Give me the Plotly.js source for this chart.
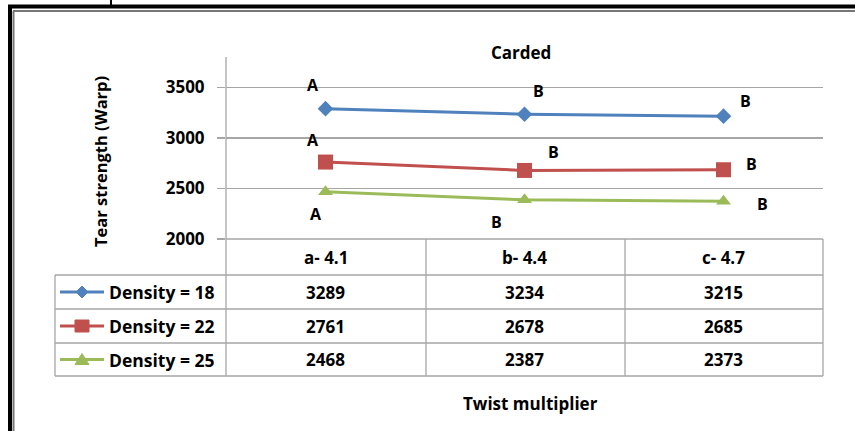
<!DOCTYPE html>
<html><head><meta charset="utf-8">
<script src="https://cdn.plot.ly/plotly-3.0.1.min.js"></script>
<style>html,body{margin:0;padding:0;background:#fff;} #chart{width:855px;height:431px;}</style>
</head><body><div id="chart"></div>
<script>
// ---- data ----
const categories = ['a- 4.1', 'b- 4.4', 'c- 4.7'];
const seriesNames = ['Density = 18', 'Density = 22', 'Density = 25'];
const density18 = [3289, 3234, 3215];
const density22 = [2761, 2678, 2685];
const density25 = [2468, 2387, 2373];
const letters18 = ['A', 'B', 'B'];
const letters22 = ['A', 'B', 'B'];
const letters25 = ['A', 'B', 'B'];
const yTickValues = [2000, 2500, 3000, 3500];
const chartTitle = 'Carded';
const yTitle = 'Tear strength (Warp)';
const xTitle = 'Twist multiplier';

// ---- styling / layout ----
const FONT = '"Open Sans", "DejaVu Sans", sans-serif';
const colors = ['#4F81BD', '#C0504D', '#9BBB59'];
const symbols = ['diamond', 'square', 'triangle-up'];
const markerSizes = [12, 15, 13];
const gridColor = '#a6a6a6';
const L = 226, T = 57, W = 597, H = 182;
const px = X => (X - L) / W;
const py = Y => (T + H - Y) / H;
// letter offsets (pixels, dy positive = up) per series, per point
const letterOffsets = [
  [[-13, 24], [14, 23], [22, 15]],
  [[-13, 22], [29, 18], [28, 6]],
  [[-10, -22], [-28, -22], [39, -3]]
];
const series = [density18, density22, density25];
const letters = [letters18, letters22, letters25];

const traces = series.map((vals, i) => ({
  type: 'scatter', mode: 'lines+markers',
  x: categories, y: vals, name: seriesNames[i],
  line: {color: colors[i], width: 3},
  marker: {color: colors[i], symbol: symbols[i], size: markerSizes[i]},
  cliponaxis: false, showlegend: false, hoverinfo: 'skip'
}));

const shapes = [];
const line = (x0, y0, x1, y1, color, width) => shapes.push({
  type: 'line', xref: 'paper', yref: 'paper',
  x0: px(x0), y0: py(y0), x1: px(x1), y1: py(y1),
  line: {color: color, width: width}
});
// outer frame
line(8, 6.5, 855, 6.5, '#000', 4);
line(10, 5, 10, 431, '#000', 4);
line(13, 11, 855, 11, '#777', 2);
line(13.5, 11, 13.5, 431, '#777', 2);
line(111, 0, 111, 5, '#000', 2);
// table
const rowLines = [275, 309, 343, 376];
line(226, 239, 823, 239, gridColor, 1.3);
rowLines.forEach(y => line(55, y, 823, y, gridColor, 1.3));
line(55, 275, 55, 376, gridColor, 1.3);
line(226, 57, 226, 376, gridColor, 1.3);
line(426, 239, 426, 376, gridColor, 1.3);
line(625, 239, 625, 376, gridColor, 1.3);
line(823, 239, 823, 376, gridColor, 1.3);
// legend keys
const rowCenters = [292, 326, 359.5];
const keyPaths = [
  'M0,6 L6,0 L0,-6 L-6,0 Z',
  'M-7,6 L7,6 L7,-6 L-7,-6 Z',
  'M-7,-5 L7,-5 L0,6 Z'
];
rowCenters.forEach((yc, i) => {
  line(60, yc, 104, yc, colors[i], 3);
  shapes.push({
    type: 'path', xref: 'paper', yref: 'paper',
    xsizemode: 'pixel', ysizemode: 'pixel',
    xanchor: px(82), yanchor: py(yc),
    path: keyPaths[i],
    fillcolor: colors[i], line: {color: colors[i], width: 1}
  });
});

const annotations = [];
const txt = (text, X, Y, size, extra) => annotations.push(Object.assign({
  text: text, xref: 'paper', yref: 'paper', x: px(X), y: py(Y),
  xanchor: 'center', yanchor: 'middle', showarrow: false,
  font: {family: FONT, size: size, color: '#000', weight: 700}
}, extra || {}));
txt(chartTitle, 521, 52, 17);
txt(xTitle, 530, 403, 17);
txt(yTitle, 100, 162, 16.5, {textangle: -90});
categories.forEach((c, j) => {
  annotations.push({text: c, xref: 'x', yref: 'paper', x: c, y: py(257),
    showarrow: false, xanchor: 'center', yanchor: 'middle',
    font: {family: FONT, size: 17, color: '#000', weight: 700}});
  series.forEach((vals, i) => {
    annotations.push({text: String(vals[j]), xref: 'x', yref: 'paper', x: c, y: py(rowCenters[i]),
      showarrow: false, xanchor: 'center', yanchor: 'middle',
      font: {family: FONT, size: 17, color: '#000', weight: 700}});
  });
});
seriesNames.forEach((n, i) => txt(n, 107, rowCenters[i], 17.5, {xanchor: 'left'}));
series.forEach((vals, i) => vals.forEach((v, j) => {
  annotations.push({text: letters[i][j], xref: 'x', yref: 'y', x: categories[j], y: v,
    xshift: letterOffsets[i][j][0], yshift: letterOffsets[i][j][1],
    showarrow: false, xanchor: 'center', yanchor: 'middle',
    font: {family: FONT, size: 16, color: '#000', weight: 700}});
}));

const layout = {
  width: 855, height: 431,
  margin: {l: L, r: 855 - L - W, t: T, b: 431 - T - H, pad: 0},
  paper_bgcolor: '#fff', plot_bgcolor: '#fff',
  showlegend: false,
  xaxis: {type: 'category', range: [-0.5, 2.5], showticklabels: false, ticks: '',
    showgrid: false, zeroline: false, showline: false, fixedrange: true},
  yaxis: {range: [2000, 3800], tickvals: yTickValues, ticktext: yTickValues.map(String),
    ticks: 'outside', ticklen: 8, tickcolor: gridColor, tickwidth: 1.3,
    showgrid: true, gridcolor: gridColor, gridwidth: 1.3, zeroline: false,
    showline: false, ticklabelstandoff: 9,
    tickfont: {family: FONT, size: 17, color: '#000', weight: 700}, fixedrange: true},
  shapes: shapes, annotations: annotations
};
Plotly.newPlot('chart', traces, layout, {displayModeBar: false, staticPlot: true});
</script></body></html>
